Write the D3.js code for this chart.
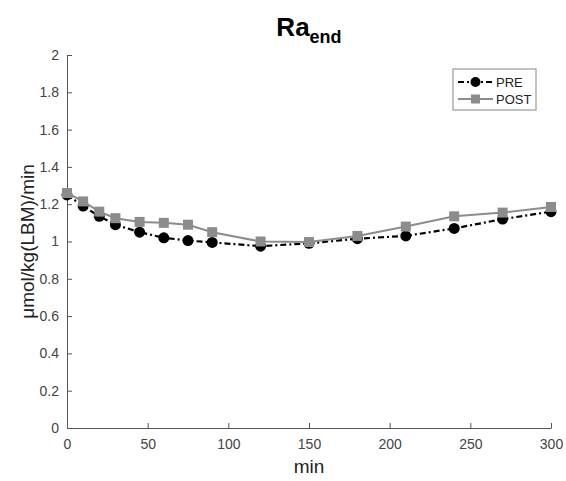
<!DOCTYPE html>
<html>
<head>
<meta charset="utf-8">
<script src="https://cdn.jsdelivr.net/npm/d3@7"></script>
<style>
  body { margin: 0; background: #fff; }
  svg { font-family: "Liberation Sans", Arial, sans-serif; }
</style>
</head>
<body>
<svg id="chart"></svg>
<script>
// time points (min)
const times = [0, 10, 20, 30, 45, 60, 75, 90, 120, 150, 180, 210, 240, 270, 300];
// Ra end, umol/kg(LBM)/min
const pre  = [1.25, 1.19, 1.135, 1.09, 1.05, 1.02, 1.005, 0.995, 0.975, 0.99, 1.015, 1.03, 1.07, 1.12, 1.16];
const post = [1.26, 1.215, 1.16, 1.125, 1.105, 1.1, 1.09, 1.05, 1.0, 0.997, 1.03, 1.08, 1.135, 1.155, 1.185];
const xTicks = [0, 50, 100, 150, 200, 250, 300];
const yTicks = [0, 0.2, 0.4, 0.6, 0.8, 1, 1.2, 1.4, 1.6, 1.8, 2];
const seriesNames = ["PRE", "POST"];

const width = 566, height = 481;
const margin = {top: 55, right: 15, bottom: 53, left: 67};

const svg = d3.select("#chart")
    .attr("width", width)
    .attr("height", height);

const innerW = width - margin.left - margin.right;
const innerH = height - margin.top - margin.bottom;

const xscale = d3.scaleLinear().domain([0, 300]).range([margin.left, margin.left + innerW]);
const yscale = d3.scaleLinear().domain([0, 2]).range([margin.top + innerH, margin.top]);

const axisColor = "#555";

// axes, ticks pointing inwards
const xaxis = d3.axisBottom(xscale)
    .tickValues(xTicks)
    .tickSizeInner(-5)
    .tickSizeOuter(0)
    .tickPadding(11);
const gx = svg.append("g")
    .attr("transform", `translate(0, ${margin.top + innerH})`)
    .call(xaxis);

const yaxis = d3.axisLeft(yscale)
    .tickValues(yTicks)
    .tickFormat(d3.format("~g"))
    .tickSizeInner(-5)
    .tickSizeOuter(0)
    .tickPadding(8);
const gy = svg.append("g")
    .attr("transform", `translate(${margin.left}, 0)`)
    .call(yaxis);

[gx, gy].forEach(g => {
    g.select(".domain").attr("stroke", axisColor);
    g.selectAll(".tick line").attr("stroke", axisColor);
    g.selectAll(".tick text")
        .attr("fill", "#444")
        .attr("font-size", "14px")
        .attr("font-family", "Liberation Sans, Arial, sans-serif");
});

// lines
const line = (vals) => d3.line()
    .x((d, i) => xscale(times[i]))
    .y(d => yscale(d))(vals);

svg.append("path")
    .attr("d", line(pre))
    .attr("fill", "none")
    .attr("stroke", "#000")
    .attr("stroke-width", 2.2)
    .attr("stroke-dasharray", "6,3,2,3");

svg.selectAll("circle.pre")
    .data(pre)
    .enter()
    .append("circle")
    .attr("class", "pre")
    .attr("cx", (d, i) => xscale(times[i]))
    .attr("cy", d => yscale(d))
    .attr("r", 5.5)
    .attr("fill", "#000");

const gray = "#8c8c8c";
svg.append("path")
    .attr("d", line(post))
    .attr("fill", "none")
    .attr("stroke", gray)
    .attr("stroke-width", 2);

const sq = 10;
svg.selectAll("rect.post")
    .data(post)
    .enter()
    .append("rect")
    .attr("class", "post")
    .attr("x", (d, i) => xscale(times[i]) - sq / 2)
    .attr("y", d => yscale(d) - sq / 2)
    .attr("width", sq)
    .attr("height", sq)
    .attr("fill", gray);

// title
const title = svg.append("text")
    .attr("x", margin.left + innerW / 2)
    .attr("y", 36)
    .attr("text-anchor", "middle")
    .attr("font-weight", "bold")
    .attr("fill", "#000");
title.append("tspan").attr("font-size", "26px").text("Ra");
title.append("tspan").attr("font-size", "18px").attr("dy", 7).text("end");

// axis labels
svg.append("text")
    .attr("x", margin.left + innerW / 2)
    .attr("y", 473)
    .attr("text-anchor", "middle")
    .attr("font-size", "19px")
    .attr("fill", "#222")
    .text("min");

svg.append("text")
    .attr("transform", `translate(34, ${margin.top + innerH / 2}) rotate(-90)`)
    .attr("text-anchor", "middle")
    .attr("font-size", "19px")
    .attr("fill", "#222")
    .text("μmol/kg(LBM)/min");

// legend
const lg = svg.append("g").attr("transform", "translate(453, 69)");
lg.append("rect")
    .attr("width", 83)
    .attr("height", 41)
    .attr("fill", "#fff")
    .attr("stroke", "#999")
    .attr("stroke-width", 1.2);

seriesNames.forEach((name, i) => {
    const y = 13 + i * 17;
    const row = lg.append("g");
    if (i === 0) {
        row.append("line")
            .attr("x1", 5).attr("x2", 40).attr("y1", y).attr("y2", y)
            .attr("stroke", "#000").attr("stroke-width", 2)
            .attr("stroke-dasharray", "6,3,2,3");
        row.append("circle").attr("cx", 22.5).attr("cy", y).attr("r", 5).attr("fill", "#000");
    } else {
        row.append("line")
            .attr("x1", 5).attr("x2", 40).attr("y1", y).attr("y2", y)
            .attr("stroke", gray).attr("stroke-width", 1.8);
        row.append("rect").attr("x", 18).attr("y", y - 4.5).attr("width", 9).attr("height", 9).attr("fill", gray);
    }
    row.append("text")
        .attr("x", 43)
        .attr("y", y + 4.5)
        .attr("font-size", "13px")
        .attr("fill", "#222")
        .text(name);
});
</script>
</body>
</html>
